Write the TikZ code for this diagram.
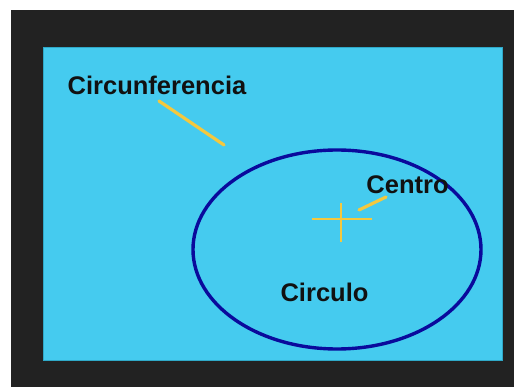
\documentclass[tikz,border=0pt]{standalone}
\usepackage{fontspec}
\usetikzlibrary{shapes.geometric}
\setmainfont{Liberation Sans}
\definecolor{frame}{HTML}{222222}
\definecolor{sky}{HTML}{45CBEF}
\definecolor{skyedge}{HTML}{2FA9C8}
\definecolor{ring}{HTML}{0A0A9C}
\definecolor{gold}{HTML}{F4C83E}
\definecolor{ink}{HTML}{111111}
\tikzset{
  lbl/.style={font=\fontsize{25.5}{30}\selectfont\bfseries, text=ink, inner sep=0pt},
  pointer/.style={draw=gold, line width=3.2pt, line cap=round},
}
\begin{document}
\begin{tikzpicture}[x=1pt,y=-1pt]
\useasboundingbox (0,0) rectangle (514,387);
\fill[white] (0,0) rectangle (514,387);
\fill[frame] (11,10) rectangle (514,387);
\filldraw[fill=sky, draw=skyedge, line width=0.8pt] (43,47) rectangle (502,360);
\node[draw=ring, line width=3.4pt, ellipse, minimum width=288pt, minimum height=199pt, inner sep=0pt] (circ) at (337,249.5) {};
\node[lbl] (tcirc) at (157,85) {Circunferencia};
\node[lbl] (tcen) at (407.5,185) {Centro};
\node[lbl] (tculo) at (324.5,292) {Circulo};
\coordinate (c1) at (159,101);
\coordinate (c2) at (224,145);
\coordinate (x0) at (341,219);
\coordinate (p1) at (359,210);
\coordinate (p2) at (386,197);
\draw[pointer] (c1) -- (c2);
\draw[pointer] (p1) -- (p2);
\draw[draw=gold, line width=2pt] ([xshift=-29pt]x0) -- ([xshift=31pt]x0);
\draw[draw=gold, line width=2pt] ([yshift=16pt]x0) -- ([yshift=-23pt]x0);
\end{tikzpicture}
\end{document}
